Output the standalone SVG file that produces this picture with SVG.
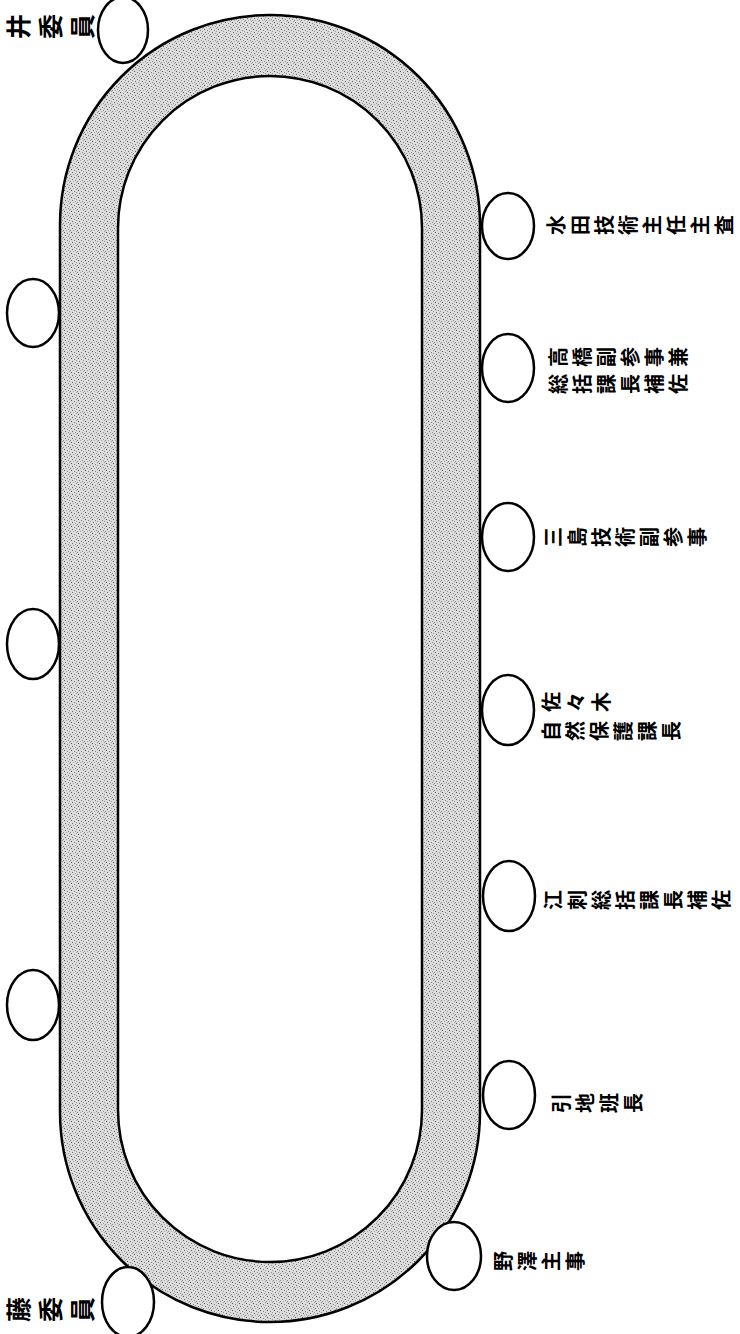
<svg xmlns="http://www.w3.org/2000/svg" width="740" height="1334" viewBox="0 0 740 1334">
<style>
.seat{fill:#fff;stroke:#000;stroke-width:2.5}
.edge{fill:none;stroke:#000;stroke-width:2.5}
.lbl{font-family:"Noto Sans CJK JP","Noto Sans CJK SC",sans-serif;font-weight:700;fill:#000}
.r{font-size:20px}
.l{font-size:25px}
</style>
<defs>
<pattern id="stipple" width="7" height="7" patternUnits="userSpaceOnUse">
<rect width="7" height="7" fill="#dcdcdc"/>
<rect x="1" y="1" width="1" height="1" fill="#555"/>
<rect x="4" y="2" width="1" height="1" fill="#808080"/>
<rect x="2" y="4" width="1" height="1" fill="#6a6a6a"/>
<rect x="5" y="5" width="1" height="1" fill="#909090"/>
<rect x="6" y="0" width="1" height="1" fill="#a0a0a0"/>
<rect x="0" y="6" width="1" height="1" fill="#888"/>
<rect x="3" y="6" width="1" height="1" fill="#aaa"/>
<rect x="6" y="3" width="1" height="1" fill="#999"/>
</pattern>
</defs>
<g id="table">
<path fill="url(#stipple)" fill-rule="evenodd" d="M60,225 A210,210 0 0 1 480,225 L480,1112 A210,210 0 0 1 60,1112 Z M118,228 A152,152 0 0 1 422,228 L422,1110 A152,152 0 0 1 118,1110 Z"/>
<path class="edge" d="M60,225 A210,210 0 0 1 480,225 L480,1112 A210,210 0 0 1 60,1112 Z"/>
<path class="edge" d="M118,228 A152,152 0 0 1 422,228 L422,1110 A152,152 0 0 1 118,1110 Z"/>
</g>
<g id="connectors"></g>
<g id="seat-top-left"><ellipse class="seat" cx="123" cy="30" rx="25" ry="33"/><text class="lbl l" x="28 60 92" y="39" rotate="-90">井委員</text></g>
<g id="seat-left-1"><ellipse class="seat" cx="33" cy="313" rx="26" ry="34"/></g>
<g id="seat-left-2"><ellipse class="seat" cx="33" cy="644" rx="26" ry="35"/></g>
<g id="seat-left-3"><ellipse class="seat" cx="33" cy="1005" rx="26" ry="35"/></g>
<g id="seat-bottom-left"><ellipse class="seat" cx="128" cy="1302" rx="26" ry="35"/><text class="lbl l" x="28 60 92" y="1322" rotate="-90">藤委員</text></g>
<g id="seat-mizuta"><ellipse class="seat" cx="508" cy="226" rx="26" ry="33"/><text class="lbl r" x="564 588 612 636 660 684 708 732" y="235" rotate="-90">水田技術主任主査</text></g>
<g id="seat-takahashi"><ellipse class="seat" cx="508" cy="368" rx="26" ry="34"/><text class="lbl r" x="566 590 614 638 662 686" y="367" rotate="-90">高橋副参事兼</text><text class="lbl r" x="566 590 614 638 662 686" y="394" rotate="-90">総括課長補佐</text></g>
<g id="seat-mishima"><ellipse class="seat" cx="508" cy="537" rx="26" ry="34"/><text class="lbl r" x="561 585 609 633 657 681 705" y="547" rotate="-90">三島技術副参事</text></g>
<g id="seat-sasaki"><ellipse class="seat" cx="508" cy="710" rx="26" ry="35"/><text class="lbl r" x="559 584 609" y="712" rotate="-90">佐々木</text><text class="lbl r" x="559 583 607 631 655 679" y="741" rotate="-90">自然保護課長</text></g>
<g id="seat-esashi"><ellipse class="seat" cx="509" cy="896" rx="26" ry="35"/><text class="lbl r" x="561 585 609 633 657 681 705 729" y="910" rotate="-90">江刺総括課長補佐</text></g>
<g id="seat-hikichi"><ellipse class="seat" cx="509" cy="1095" rx="26" ry="34"/><text class="lbl r" x="569 593 617 641" y="1113" rotate="-90">引地班長</text></g>
<g id="seat-nozawa"><ellipse class="seat" cx="454" cy="1256" rx="27" ry="34"/><text class="lbl r" x="511 535 559 583" y="1271" rotate="-90">野澤主事</text></g>
</svg>
